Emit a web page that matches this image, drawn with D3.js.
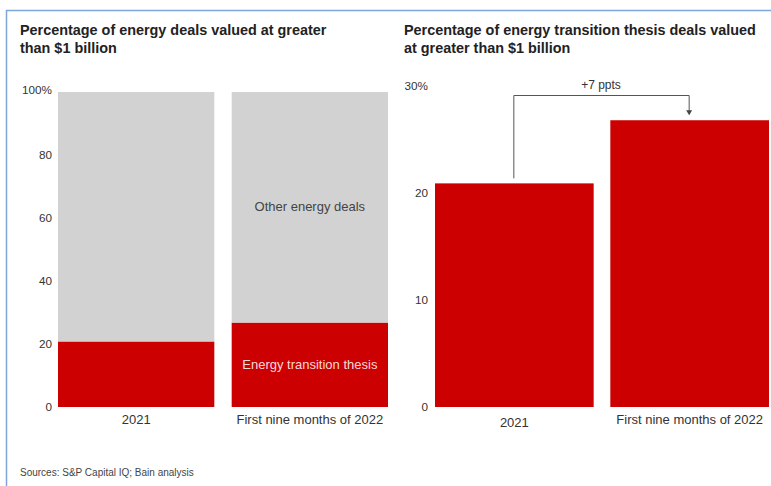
<!DOCTYPE html>
<html>
<head>
<meta charset="utf-8">
<script src="https://cdn.jsdelivr.net/npm/d3@7"></script>
<style>
  html, body { margin: 0; padding: 0; background: #fff; }
  svg { display: block; font-family: "Liberation Sans", Arial, sans-serif; }
</style>
</head>
<body>
<svg id="chart" width="771" height="486"></svg>
<script>
// ---- data ----
const categories = ["2021", "First nine months of 2022"];
const transitionShare = [20.8, 26.8];          // % of energy deals > $1B that are energy-transition thesis
const otherShare = [79.2, 73.2];               // remainder: other energy deals
const transitionDealsAbove1B = [20.9, 26.8];   // % of energy-transition thesis deals valued > $1B
const leftTicks = [0, 20, 40, 60, 80, 100];
const rightTicks = [0, 10, 20, 30];
const seriesNames = ["Energy transition thesis", "Other energy deals"];
const titles = [
  ["Percentage of energy deals valued at greater", "than $1 billion"],
  ["Percentage of energy transition thesis deals valued", "at greater than $1 billion"]
];
const annotation = "+7 ppts";
const source = "Sources: S&P Capital IQ; Bain analysis";

const RED = "#cc0000", GRAY = "#d2d2d2", TXT = "#333";
const FONT = "Liberation Sans, Arial, sans-serif";
const svg = d3.select("#chart");

// frame
svg.append("path").attr("d", "M6.5,486 V10.5 H771")
  .attr("fill", "none").attr("stroke", "#7fa6d8").attr("stroke-width", 1.5);

// titles
function title(x, lines) {
  const t = svg.append("text").attr("x", x).attr("y", 35)
    .attr("font-size", 14.4).attr("font-weight", "bold").attr("fill", "#222");
  lines.forEach((l, i) => t.append("tspan").attr("x", x).attr("dy", i ? 17.5 : 0).text(l));
}
title(20, titles[0]);
title(404, titles[1]);

// ---- left chart: stacked 100% ----
const yL = d3.scaleLinear().domain([0, 100]).range([407, 92]);
const xL = d3.scaleBand().domain(categories).range([58, 388]).paddingInner(0.1).paddingOuter(0);

const stackData = categories.map((c, i) => ({ cat: c, t: transitionShare[i], o: otherShare[i] }));
const stacked = d3.stack().keys(["t", "o"])(stackData);
const gL = svg.append("g");
gL.selectAll("g.layer").data(stacked).join("g")
  .attr("fill", (d, i) => i === 0 ? RED : GRAY)
  .selectAll("rect").data(d => d).join("rect")
  .attr("x", d => xL(d.data.cat))
  .attr("width", xL.bandwidth())
  .attr("y", d => yL(d[1]))
  .attr("height", d => yL(d[0]) - yL(d[1]));

const axL = svg.append("g").attr("transform", "translate(52,0)")
  .call(d3.axisLeft(yL).tickValues(leftTicks).tickSize(0).tickPadding(0)
    .tickFormat(d => d === 100 ? d + "%" : d));
axL.select(".domain").remove();
axL.selectAll("text").attr("font-size", 11.7).attr("fill", TXT).attr("font-family", FONT);
axL.select(".tick:last-of-type text").attr("dy", "0.1em");

const axLb = svg.append("g").attr("transform", "translate(0,408)")
  .call(d3.axisBottom(xL).tickSize(0).tickPadding(7));
axLb.select(".domain").remove();
axLb.selectAll("text").attr("font-size", 13).attr("fill", TXT).attr("font-family", FONT);

// series labels inside second bar
const c2 = xL(categories[1]) + xL.bandwidth() / 2;
svg.append("text").attr("x", c2).attr("y", yL(transitionShare[1] + otherShare[1] / 2) + 4)
  .attr("text-anchor", "middle").attr("font-size", 13).attr("fill", "#444").text(seriesNames[1]);
svg.append("text").attr("x", c2).attr("y", yL(transitionShare[1] / 2) + 4)
  .attr("text-anchor", "middle").attr("font-size", 13).attr("fill", "#f6dada").text(seriesNames[0]);

// ---- right chart ----
const yR = d3.scaleLinear().domain([0, 30]).range([407, 86]);
const xR = d3.scaleBand().domain(categories).range([435, 769]).paddingInner(0.095).paddingOuter(0);

svg.append("g").selectAll("rect").data(categories).join("rect")
  .attr("fill", RED)
  .attr("x", d => xR(d))
  .attr("width", xR.bandwidth())
  .attr("y", (d, i) => yR(transitionDealsAbove1B[i]))
  .attr("height", (d, i) => yR(0) - yR(transitionDealsAbove1B[i]));

const axR = svg.append("g").attr("transform", "translate(428,0)")
  .call(d3.axisLeft(yR).tickValues(rightTicks).tickSize(0).tickPadding(0)
    .tickFormat(d => d === 30 ? d + "%" : d));
axR.select(".domain").remove();
axR.selectAll("text").attr("font-size", 11.7).attr("fill", TXT).attr("font-family", FONT);

const axRb = svg.append("g").attr("transform", "translate(0,408)")
  .call(d3.axisBottom(xR).tickSize(0).tickPadding(7));
axRb.select(".domain").remove();
axRb.selectAll("text").attr("font-size", 13).attr("fill", TXT).attr("font-family", FONT);
axRb.selectAll(".tick").filter((d, i) => i === 0).select("text").attr("dy", "0.95em");

// bracket annotation
const bx1 = xR(categories[0]) + xR.bandwidth() / 2 - 1;
const bx2 = xR(categories[1]) + xR.bandwidth() / 2 - 1;
const by1 = yR(transitionDealsAbove1B[0]) - 5;
const byTop = 95.5;
const by2 = yR(transitionDealsAbove1B[1]) - 5;
svg.append("path")
  .attr("d", `M${bx1 + 0.5},${by1} V${byTop} H${bx2 + 0.5} V${by2 - 4}`)
  .attr("fill", "none").attr("stroke", "#555").attr("stroke-width", 1);
svg.append("path")
  .attr("d", `M${bx2 - 2.5},${by2 - 5} L${bx2 + 3.5},${by2 - 5} L${bx2 + 0.5},${by2} Z`)
  .attr("fill", "#444");
svg.append("text").attr("x", (bx1 + bx2) / 2).attr("y", 89)
  .attr("text-anchor", "middle").attr("font-size", 12).attr("fill", TXT).text(annotation);

// source
svg.append("text").attr("x", 20).attr("y", 476)
  .attr("font-size", 10).attr("fill", "#444").text(source);
</script>
</body>
</html>
